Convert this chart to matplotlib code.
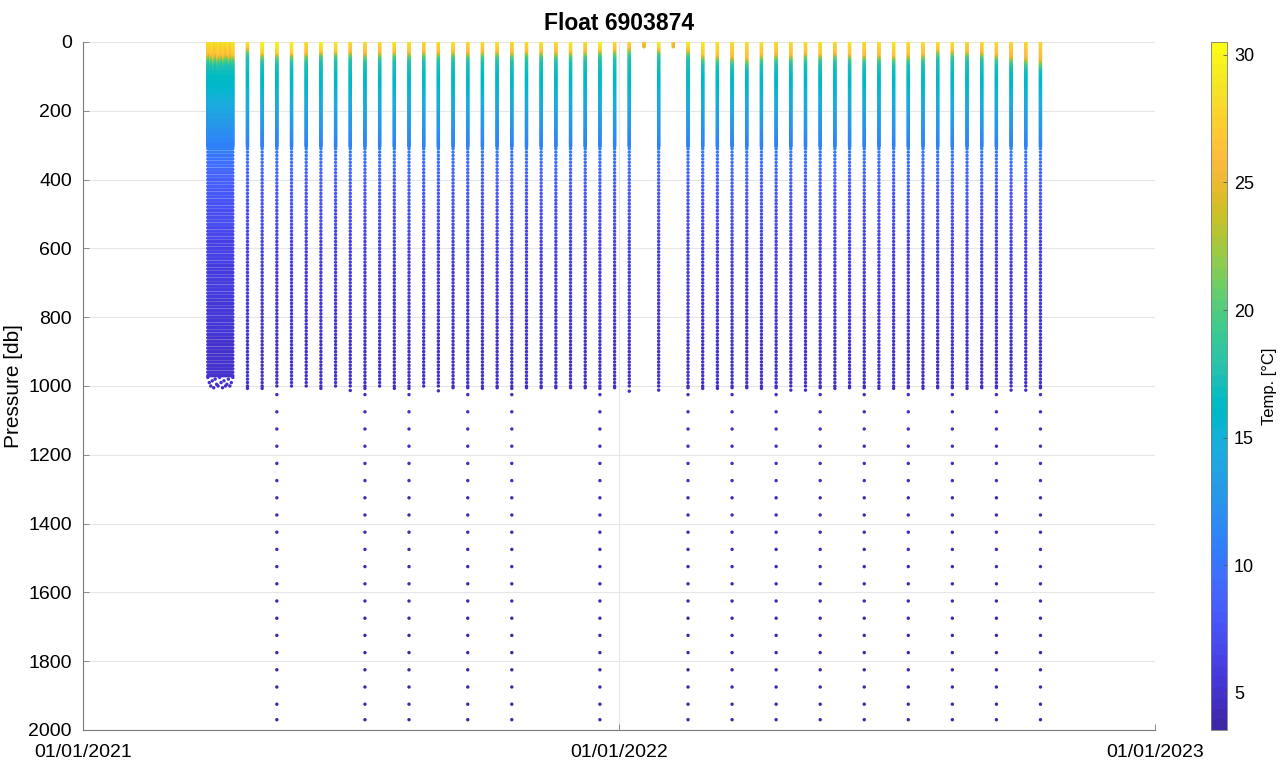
import numpy as np
import matplotlib
matplotlib.use("Agg")
import matplotlib.pyplot as plt
import matplotlib.dates as mdates
from matplotlib.colors import ListedColormap
import datetime as dt

plt.rcParams['font.family'] = ['Liberation Sans', 'DejaVu Sans']

# ---------------- data ----------------
# dense "cluster" of profiles at deployment (days)
cluster_dates = ['2021-03-27', '2021-03-28', '2021-03-29', '2021-03-30', '2021-03-31',
                 '2021-04-01', '2021-04-02', '2021-04-03', '2021-04-04', '2021-04-05',
                 '2021-04-06', '2021-04-07', '2021-04-08', '2021-04-09', '2021-04-10',
                 '2021-04-11', '2021-04-12', '2021-04-13']
cluster_sst = [28.5, 29.0, 28.0, 29.5, 28.5, 28.0, 29.0, 28.5, 29.5, 28.0,
               28.5, 29.0, 28.0, 28.5, 29.5, 28.5, 28.0, 29.0]
cluster_mld = [40, 35, 45, 38, 50, 42, 36, 48, 40, 44, 38, 46, 42, 36, 40, 45, 38, 42]
cluster_bottom = [975, 990, 1000, 985, 1005, 980, 995, 1000, 975, 990,
                  1005, 985, 1000, 995, 980, 1000, 990, 975]

# regular 10-day cycles
cycle_dates = ['2021-04-23', '2021-05-03', '2021-05-13', '2021-05-23', '2021-06-02',
               '2021-06-12', '2021-06-22', '2021-07-02', '2021-07-12', '2021-07-22',
               '2021-08-01', '2021-08-11', '2021-08-21', '2021-08-31', '2021-09-10',
               '2021-09-20', '2021-09-30', '2021-10-10', '2021-10-20', '2021-10-30',
               '2021-11-09', '2021-11-19', '2021-11-29', '2021-12-09', '2021-12-19',
               '2021-12-29', '2022-01-08', '2022-01-18', '2022-01-28', '2022-02-07',
               '2022-02-17', '2022-02-27', '2022-03-09', '2022-03-19', '2022-03-29',
               '2022-04-08', '2022-04-18', '2022-04-28', '2022-05-08', '2022-05-18',
               '2022-05-28', '2022-06-07', '2022-06-17', '2022-06-27', '2022-07-07',
               '2022-07-17', '2022-07-27', '2022-08-06', '2022-08-16', '2022-08-26',
               '2022-09-05', '2022-09-15', '2022-09-25', '2022-10-05', '2022-10-15']
cycle_sst = [29.0, 30.0, 30.0, 30.0, 28.5, 30.0, 29.5, 28.5, 28.5, 28.5,
             29.0, 29.0, 28.5, 28.5, 29.0, 28.5, 28.5, 29.0, 28.5, 28.5,
             29.0, 28.5, 29.5, 28.5, 30.0, 28.5, 28.5, 27.0, 30.0, 27.0,
             29.5, 29.5, 29.0, 28.5, 28.5, 28.5, 28.5, 28.5, 28.5, 29.0,
             28.5, 29.0, 28.5, 28.5, 29.0, 28.5, 28.5, 29.0, 29.0, 28.5,
             28.5, 28.5, 28.0, 28.0, 28.0]
cycle_mld = [20, 35, 35, 35, 35, 30, 30, 30, 35, 32,
             30, 32, 30, 32, 30, 32, 30, 30, 32, 30,
             30, 32, 30, 30, 25, 25, 20, 15, 22, 15,
             25, 40, 42, 45, 50, 40, 38, 40, 35, 38,
             35, 38, 40, 40, 42, 40, 38, 25, 28, 30,
             32, 38, 45, 50, 55]
cycle_bottom = [1007, 1007, 1000, 1000, 1000, 1007, 1000, 1013, 1007, 1000,
                1007, 1007, 1000, 1014, 1005, 1005, 1007, 1005, 1007, 1005,
                1005, 1005, 1005, 1005, 1007, 1005, 1015, 15, 1012, 15,
                1005, 1007, 1007, 1005, 1005, 1007, 1005, 1012, 1012, 1005,
                1007, 1005, 1005, 1007, 1007, 1005, 1007, 1005, 1005, 1007,
                1005, 1005, 1012, 1012, 1005]
deep_cycles = [2, 8, 11, 15, 18, 24, 30, 33, 36, 39, 42, 45, 48, 51, 54]
deep_levels = [1025, 1075, 1125, 1175, 1225, 1275, 1325, 1375, 1425, 1475,
               1525, 1575, 1625, 1675, 1725, 1775, 1825, 1875, 1925, 1970]

# interior temperature structure below the thermocline
knot_p = [100, 150, 200, 250, 300, 400, 500, 600, 800, 1000, 1500, 2000]
knot_t = [16.5, 15.5, 14.0, 12.5, 11.0, 8.5, 7.2, 6.3, 5.4, 4.8, 4.1, 3.6]

# vertical sampling of the float
dense_levels = np.arange(0, 306, 2)
mid_levels = np.arange(310, 1001, 10)

# ---------------- parula colormap ----------------
parula = ListedColormap([
    [0.2422, 0.1504, 0.6603], [0.2504, 0.1650, 0.7076], [0.2578, 0.1818, 0.7511],
    [0.2647, 0.1978, 0.7952], [0.2706, 0.2147, 0.8364], [0.2751, 0.2342, 0.8710],
    [0.2783, 0.2559, 0.8991], [0.2803, 0.2782, 0.9221], [0.2813, 0.3006, 0.9414],
    [0.2810, 0.3228, 0.9579], [0.2795, 0.3447, 0.9717], [0.2760, 0.3667, 0.9829],
    [0.2699, 0.3892, 0.9906], [0.2602, 0.4123, 0.9952], [0.2440, 0.4358, 0.9988],
    [0.2206, 0.4603, 0.9973], [0.1963, 0.4847, 0.9892], [0.1834, 0.5074, 0.9798],
    [0.1786, 0.5289, 0.9682], [0.1764, 0.5499, 0.9520], [0.1687, 0.5703, 0.9359],
    [0.1540, 0.5902, 0.9218], [0.1460, 0.6091, 0.9079], [0.1380, 0.6276, 0.8973],
    [0.1248, 0.6459, 0.8883], [0.1113, 0.6635, 0.8763], [0.0952, 0.6798, 0.8598],
    [0.0689, 0.6948, 0.8394], [0.0297, 0.7082, 0.8163], [0.0036, 0.7203, 0.7917],
    [0.0067, 0.7312, 0.7660], [0.0433, 0.7411, 0.7394], [0.0964, 0.7500, 0.7120],
    [0.1408, 0.7584, 0.6842], [0.1717, 0.7670, 0.6554], [0.1938, 0.7758, 0.6251],
    [0.2161, 0.7843, 0.5923], [0.2470, 0.7918, 0.5567], [0.2906, 0.7973, 0.5188],
    [0.3406, 0.8008, 0.4789], [0.3909, 0.8029, 0.4354], [0.4456, 0.8024, 0.3909],
    [0.5044, 0.7993, 0.3480], [0.5616, 0.7942, 0.3045], [0.6174, 0.7876, 0.2612],
    [0.6720, 0.7793, 0.2227], [0.7242, 0.7698, 0.1910], [0.7738, 0.7598, 0.1646],
    [0.8203, 0.7498, 0.1535], [0.8634, 0.7406, 0.1596], [0.9035, 0.7330, 0.1774],
    [0.9393, 0.7288, 0.2100], [0.9728, 0.7298, 0.2394], [0.9956, 0.7434, 0.2371],
    [0.9970, 0.7659, 0.2199], [0.9952, 0.7893, 0.2028], [0.9892, 0.8136, 0.1885],
    [0.9786, 0.8386, 0.1766], [0.9676, 0.8639, 0.1643], [0.9610, 0.8890, 0.1537],
    [0.9597, 0.9135, 0.1423], [0.9628, 0.9373, 0.1265], [0.9691, 0.9606, 0.1064],
    [0.9769, 0.9839, 0.0805]], name='parula')


def temp_profile(p, sst, mld):
    p = np.asarray(p, float)
    kp = [0, mld, mld + 12, mld + 30] + [k for k in knot_p if k > mld + 30]
    kt = [sst, sst - 2.5, 21.0, 17.5] + [t for k, t in zip(knot_p, knot_t) if k > mld + 30]
    return np.interp(p, kp, kt)


xs, ps, ts = [], [], []


def add_profile(date, levels, sst, mld):
    d = mdates.date2num(dt.datetime.strptime(date, '%Y-%m-%d'))
    levels = np.asarray(levels, float)
    xs.append(np.full(levels.size, d))
    ps.append(levels)
    ts.append(temp_profile(levels, sst, mld))


for date, sst, mld, bot in zip(cluster_dates, cluster_sst, cluster_mld, cluster_bottom):
    lev = np.concatenate([dense_levels, mid_levels[mid_levels < 975], [bot]])
    add_profile(date, lev, sst, mld)

for k, (date, sst, mld, bot) in enumerate(zip(cycle_dates, cycle_sst, cycle_mld, cycle_bottom)):
    if bot < 100:
        lev = dense_levels[dense_levels <= bot]
    else:
        lev = np.concatenate([dense_levels, mid_levels])
        if bot > 1000:
            lev = np.concatenate([lev, [bot]])
        if k in deep_cycles:
            lev = np.concatenate([lev, deep_levels])
    add_profile(date, lev, sst, mld)

X = np.concatenate(xs)
P = np.concatenate(ps)
T = np.concatenate(ts)

# ---------------- figure ----------------
fig = plt.figure(figsize=(12.86, 7.61), dpi=100)
ax = fig.add_axes([83 / 1286, 1 - 730 / 761, (1155 - 83) / 1286, (730 - 42) / 761])
cax = fig.add_axes([1211 / 1286, 1 - 730 / 761, 16 / 1286, (730 - 42) / 761])

sc = ax.scatter(X, P, c=T, s=6, cmap=parula, vmin=3.55, vmax=30.5, linewidths=0, zorder=3)

ax.set_xlim(mdates.date2num(dt.datetime(2021, 1, 1)), mdates.date2num(dt.datetime(2023, 1, 1)))
ax.set_ylim(2000, 0)
ax.set_xticks([mdates.date2num(dt.datetime(y, 1, 1)) for y in (2021, 2022, 2023)])
ax.xaxis.set_major_formatter(mdates.DateFormatter('%m/%d/%Y'))
ax.set_yticks(np.arange(0, 2001, 200))
ax.grid(True, color='#e6e6e6', linewidth=0.8, zorder=0)
ax.set_axisbelow(True)
for s in ('top', 'right'):
    ax.spines[s].set_visible(False)
for s in ('left', 'bottom'):
    ax.spines[s].set_color('#7a7a7a')
    ax.spines[s].set_linewidth(0.8)
ax.tick_params(direction='in', length=4, width=0.6, color='#7a7a7a', labelsize=14,
               labelcolor='#000000')
ax.tick_params(axis='y', pad=8)
ax.tick_params(axis='x', pad=10)
ax.set_ylabel('Pressure [db]', fontsize=15, labelpad=4)
ax.set_title('Float 6903874', fontsize=16.5, fontweight='bold', pad=9)

cb = fig.colorbar(sc, cax=cax)
cb.set_ticks([5, 10, 15, 20, 25, 30])
cb.outline.set_edgecolor('#7a7a7a')
cb.outline.set_linewidth(0.6)
cax.tick_params(direction='in', length=3, width=0.6, color='#555555', labelsize=13, pad=5)
cb.set_label('Temp. [°C]', fontsize=12, labelpad=6)

fig.savefig('out.png', dpi=100)
